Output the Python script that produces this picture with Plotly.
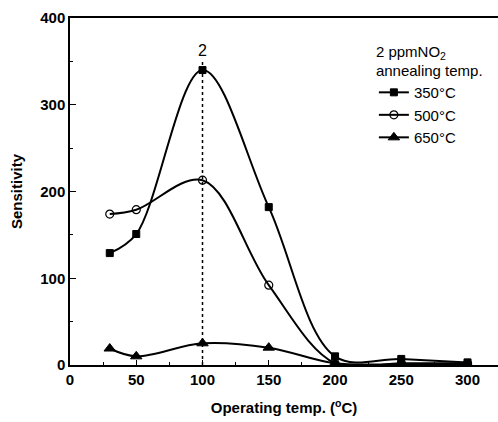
import plotly.graph_objects as go

temps = [30, 50, 100, 150, 200, 250, 300]
s350 = [129, 151, 340, 182, 10, 7, 3]
s500 = [174, 179, 213, 92, 2, 2, 2]
s650 = [19, 10, 25, 20, 2, 1, 1]
names = ["350°C", "500°C", "650°C"]
marker_line_x = 100
marker_line_top = 350
marker_label = "2"

FONT = "Liberation Sans"
fig = go.Figure()
styles = [
    dict(symbol="square", size=7, color="black", line=dict(color="black", width=1)),
    dict(symbol="circle-open", size=8, color="black", line=dict(color="black", width=1.2)),
    dict(symbol="triangle-up", size=10, color="black", line=dict(color="black", width=1)),
]
for ys, nm, st in zip([s350, s500, s650], names, styles):
    fig.add_trace(go.Scatter(
        x=temps, y=ys, name=nm, mode="lines+markers",
        line=dict(color="black", width=2, shape="spline", smoothing=1.0),
        marker=st,
    ))

fig.add_shape(type="line", x0=marker_line_x, x1=marker_line_x, y0=0, y1=marker_line_top,
              line=dict(color="black", width=1.5, dash="dot"))
fig.add_annotation(x=marker_line_x, y=marker_line_top, text=marker_label, showarrow=False,
                   yanchor="bottom", font=dict(family=FONT, size=16, color="black"))

fig.update_layout(
    width=498, height=422,
    margin=dict(l=70, r=0, t=18, b=57),
    plot_bgcolor="white", paper_bgcolor="white",
    showlegend=True,
    legend=dict(
        x=0.71, y=0.945, xanchor="left", yanchor="top",
        bgcolor="rgba(0,0,0,0)",
        font=dict(family=FONT, size=15, color="black"),
        title=dict(text="2 ppmNO<sub>2</sub><br>annealing temp.",
                   font=dict(family=FONT, size=15, color="black"), side="top"),
        tracegroupgap=0, itemwidth=30,
    ),
    xaxis=dict(
        range=[0, 323], tickvals=[0, 50, 100, 150, 200, 250, 300],
        ticks="inside", ticklen=5, tickwidth=1, tickcolor="black",
        minor=dict(tickvals=[25, 75, 125, 175, 225, 275], ticks="inside", ticklen=3, tickcolor="black"),
        showline=True, linecolor="black", linewidth=1.5, mirror=True,
        showgrid=False, zeroline=False,
        tickfont=dict(family=FONT, size=15, color="black", weight="bold"),
        title=dict(text="Operating temp. (<sup>o</sup>C)", standoff=16,
                   font=dict(family=FONT, size=15, color="black", weight="bold")),
    ),
    yaxis=dict(
        range=[0, 400], tickvals=[0, 100, 200, 300, 400],
        ticks="inside", ticklen=6, tickwidth=1, tickcolor="black",
        minor=dict(tickvals=[50, 150, 250, 350], ticks="inside", ticklen=3, tickcolor="black"),
        showline=True, linecolor="black", linewidth=1.5, mirror=False,
        showgrid=False, zeroline=False,
        tickfont=dict(family=FONT, size=15, color="black", weight="bold"),
        title=dict(text="Sensitivity", standoff=14,
                   font=dict(family=FONT, size=15, color="black", weight="bold")),
    ),
)
fig.write_html("out.html")
